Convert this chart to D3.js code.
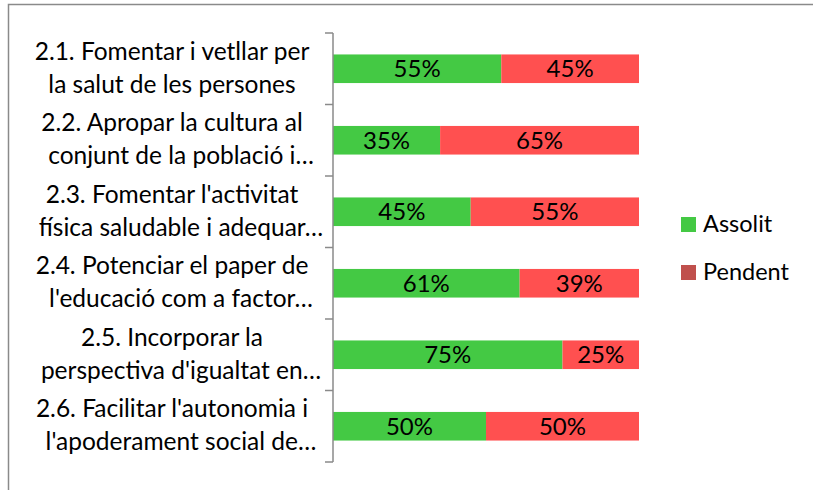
<!DOCTYPE html>
<html><head><meta charset="utf-8">
<script src="https://cdn.jsdelivr.net/npm/d3@7"></script>
<style>body{margin:0;background:#fff}svg{display:block}</style>
</head><body>
<svg id="c" width="813" height="490"></svg>
<script>
const categories = [
  ["2.1. Fomentar i vetllar per", "la salut de les persones"],
  ["2.2. Apropar la cultura al", "conjunt de la població i…"],
  ["2.3. Fomentar l'activitat", "física saludable i adequar…"],
  ["2.4. Potenciar el paper de", "l'educació com a factor…"],
  ["2.5. Incorporar la", "perspectiva d'igualtat en…"],
  ["2.6. Facilitar l'autonomia i", "l'apoderament social de…"]
];
const assolit = [55, 35, 45, 61, 75, 50];
const pendent = [45, 65, 55, 39, 25, 50];
const seriesNames = ["Assolit", "Pendent"];
const barColors = ["#44c944", "#ff5050"];
const legendColors = ["#44c944", "#c0504d"];

const svg = d3.select("#c");
const FONT = "Lato, 'Open Sans', sans-serif";

// frame
svg.append("path").attr("d", "M8.5,490 V4.5 H813").attr("fill", "none")
  .attr("stroke", "#8a8a8a").attr("stroke-width", 1.5);

const x = d3.scaleLinear().domain([0, 100]).range([333, 639]);
const y = d3.scaleBand().domain(d3.range(categories.length)).range([33, 462]).paddingInner(0.6).paddingOuter(0.3);
const yb = d3.scaleBand().domain(d3.range(categories.length)).range([33, 462]);

const data = categories.map((c, i) => ({i, a: assolit[i], p: pendent[i]}));

const g = svg.append("g");
g.selectAll("rect.a").data(data).join("rect")
  .attr("x", x(0)).attr("y", d => y(d.i)).attr("width", d => x(d.a) - x(0))
  .attr("height", y.bandwidth()).attr("fill", barColors[0]);
g.selectAll("rect.p").data(data).join("rect")
  .attr("x", d => x(d.a)).attr("y", d => y(d.i)).attr("width", d => x(d.a + d.p) - x(d.a))
  .attr("height", y.bandwidth()).attr("fill", barColors[1]);

g.selectAll("text.la").data(data).join("text")
  .attr("x", d => (x(0) + x(d.a)) / 2).attr("y", d => y(d.i) + y.bandwidth() / 2 + 8.5)
  .attr("text-anchor", "middle").style("font", `24px ${FONT}`).attr("fill", "#000")
  .text(d => d.a + "%");
g.selectAll("text.lp").data(data).join("text")
  .attr("x", d => (x(d.a) + x(d.a + d.p)) / 2).attr("y", d => y(d.i) + y.bandwidth() / 2 + 8.5)
  .attr("text-anchor", "middle").style("font", `24px ${FONT}`).attr("fill", "#000")
  .text(d => d.p + "%");

// axis
const axis = d3.axisLeft(yb).tickSize(0).tickFormat("");
const ag = svg.append("g").attr("transform", "translate(333,0)").call(axis);
ag.select(".domain").remove();
ag.append("line").attr("x1", 0).attr("x2", 0).attr("y1", 33).attr("y2", 462)
  .attr("stroke", "#8a8a8a").attr("stroke-width", 1.5);
const tickYs = d3.range(categories.length + 1).map(k => k === categories.length ? 462 : yb(k));
ag.selectAll("line.t").data(tickYs).join("line").attr("class", "t")
  .attr("x1", -8).attr("x2", 0).attr("y1", d => d).attr("y2", d => d)
  .attr("stroke", "#8a8a8a").attr("stroke-width", 1.5);

// category labels
const lab = svg.append("g");
categories.forEach((lines, i) => {
  const cy = yb(i) + yb.bandwidth() / 2;
  lines.forEach((t, j) => {
    const shift = t.endsWith("…") ? 9 : 0;
    lab.append("text").attr("x", 172 + shift).attr("y", cy - 9 + j * 33)
      .attr("text-anchor", "middle").style("font", `24.5px ${FONT}`).attr("fill", "#000").text(t);
  });
});

// legend
const leg = svg.append("g");
seriesNames.forEach((n, i) => {
  leg.append("rect").attr("x", 681).attr("y", 217 + i * 48).attr("width", 15).attr("height", 15).attr("fill", legendColors[i]);
  leg.append("text").attr("x", 703).attr("y", 232 + i * 48).style("font", `23.5px ${FONT}`).attr("fill", "#000").text(n);
});
</script>
</body></html>
